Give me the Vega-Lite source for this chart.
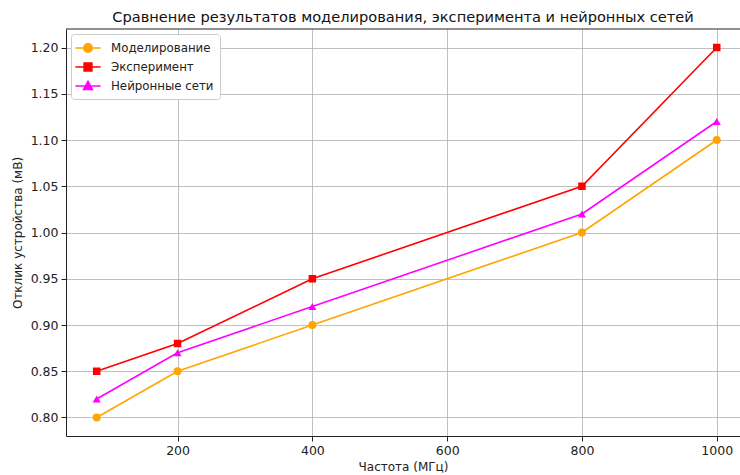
{
  "$schema": "https://vega.github.io/schema/vega-lite/v6.json",
  "width": 674,
  "height": 407,
  "autosize": {"type": "none"},
  "padding": {"left": 66, "top": 29, "right": 0, "bottom": 39},
  "background": "white",
  "config": {
    "view": {"stroke": null},
    "font": "DejaVu Sans",
    "axis": {
      "labelFont": "DejaVu Sans",
      "titleFont": "DejaVu Sans",
      "labelFontSize": 12.5,
      "titleFontSize": 12,
      "titleFontWeight": "normal",
      "labelColor": "#222",
      "titleColor": "#222",
      "domainColor": "#222",
      "tickColor": "#222",
      "tickSize": 5,
      "gridColor": "#b0b0b0",
      "gridWidth": 0.8
    }
  },
  "title": {
    "text": "Сравнение результатов моделирования, эксперимента и нейронных сетей",
    "fontSize": 14.6,
    "fontWeight": "normal",
    "font": "DejaVu Sans",
    "color": "#111",
    "anchor": "middle",
    "offset": 4
  },
  "data": {
    "values": [
      {"f": 80, "v": 0.80, "s": "Моделирование"},
      {"f": 200, "v": 0.85, "s": "Моделирование"},
      {"f": 400, "v": 0.90, "s": "Моделирование"},
      {"f": 800, "v": 1.00, "s": "Моделирование"},
      {"f": 1000, "v": 1.10, "s": "Моделирование"},
      {"f": 80, "v": 0.85, "s": "Эксперимент"},
      {"f": 200, "v": 0.88, "s": "Эксперимент"},
      {"f": 400, "v": 0.95, "s": "Эксперимент"},
      {"f": 800, "v": 1.05, "s": "Эксперимент"},
      {"f": 1000, "v": 1.20, "s": "Эксперимент"},
      {"f": 80, "v": 0.82, "s": "Нейронные сети"},
      {"f": 200, "v": 0.87, "s": "Нейронные сети"},
      {"f": 400, "v": 0.92, "s": "Нейронные сети"},
      {"f": 800, "v": 1.02, "s": "Нейронные сети"},
      {"f": 1000, "v": 1.12, "s": "Нейронные сети"}
    ]
  },
  "encoding": {
    "x": {
      "field": "f", "type": "quantitative",
      "scale": {"domain": [34.5, 1034.5], "nice": false, "zero": false},
      "axis": {"title": "Частота (МГц)", "values": [200, 400, 600, 800, 1000], "format": "d", "grid": true, "labelPadding": 3, "titlePadding": 5}
    },
    "y": {
      "field": "v", "type": "quantitative",
      "scale": {"domain": [0.78, 1.22], "nice": false, "zero": false},
      "axis": {"title": "Отклик устройства (мВ)", "values": [0.8, 0.85, 0.9, 0.95, 1.0, 1.05, 1.1, 1.15, 1.2], "format": ".2f", "grid": true, "labelPadding": 3, "titlePadding": 6}
    }
  },
  "layer": [
    {
      "mark": {"type": "line", "strokeWidth": 1.6},
      "encoding": {
        "color": {
          "field": "s", "type": "nominal",
          "scale": {"domain": ["Моделирование", "Эксперимент", "Нейронные сети"], "range": ["#FFA500", "#FF0000", "#FF00FF"]},
          "legend": {
            "title": null,
            "orient": "top-left",
            "offset": 5,
            "padding": 6,
            "fillColor": "white",
            "strokeColor": "#cccccc",
            "cornerRadius": 3,
            "labelFont": "DejaVu Sans",
            "labelFontSize": 11.8,
            "labelColor": "#222",
            "symbolSize": 196,
            "symbolStrokeWidth": 1.6,
            "symbolOffset": 3,
            "rowPadding": 3,
            "labelOffset": 15,
            "encode": {
              "symbols": {
                "update": {
                  "shape": {"signal": "datum.value === 'Моделирование' ? 'M-1.8,0H1.8M-0.6,0A0.6,0.6 0 1,1 0.6,0A0.6,0.6 0 1,1 -0.6,0Z' : datum.value === 'Эксперимент' ? 'M-1.8,0H1.8M-0.55,-0.55H0.55V0.55H-0.55Z' : 'M-1.8,0H1.8M0,-0.65L0.62,0.5L-0.62,0.5Z'"},
                  "fill": {"signal": "datum.value === 'Моделирование' ? '#FFA500' : datum.value === 'Эксперимент' ? '#FF0000' : '#FF00FF'"},
                  "opacity": {"value": 1}
                }
              }
            }
          }
        }
      }
    },
    {
      "transform": [{"filter": "datum.s === 'Моделирование'"}],
      "mark": {"type": "point", "filled": true, "opacity": 1, "shape": "circle", "size": 64, "color": "#FFA500"}
    },
    {
      "transform": [{"filter": "datum.s === 'Эксперимент'"}],
      "mark": {"type": "point", "filled": true, "opacity": 1, "shape": "square", "size": 56, "color": "#FF0000"}
    },
    {
      "transform": [{"filter": "datum.s === 'Нейронные сети'"}],
      "mark": {"type": "point", "filled": true, "opacity": 1, "shape": "triangle-up", "size": 64, "color": "#FF00FF"}
    },
    {
      "mark": {"type": "rule", "color": "#222", "strokeWidth": 1},
      "data": {"values": [{"top": 1.22}]},
      "encoding": {
        "y": {"field": "top", "type": "quantitative"},
        "x": {"value": 0},
        "x2": {"value": 674}
      }
    }
  ]
}
